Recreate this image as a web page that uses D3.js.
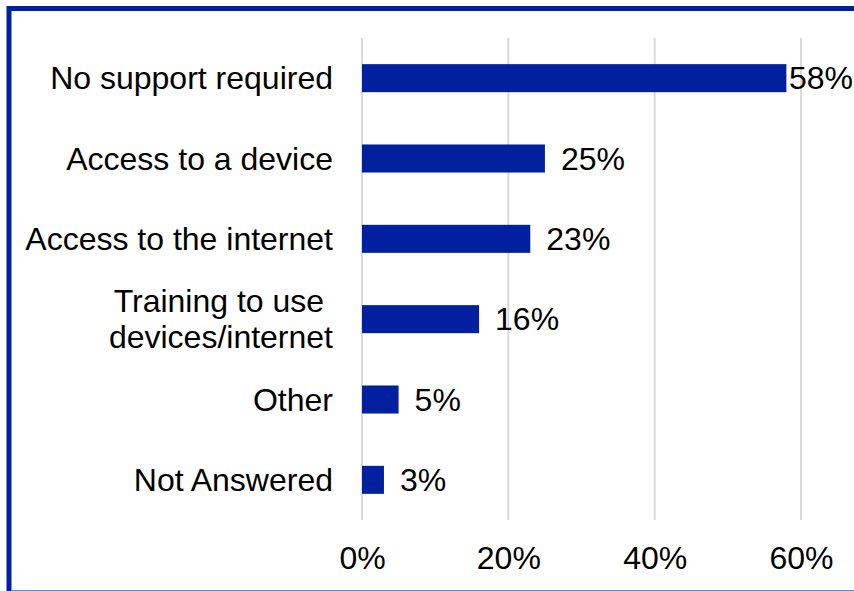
<!DOCTYPE html>
<html>
<head>
<meta charset="utf-8">
<script src="https://cdn.jsdelivr.net/npm/d3@7"></script>
<style>
  html, body { margin: 0; padding: 0; background: #fff; }
  svg { display: block; }
  text { font-family: "Liberation Sans", Arial, sans-serif; fill: #000; }
</style>
</head>
<body>
<svg id="chart" width="854" height="591"></svg>
<script>
// Support needed to get online — share of responses
const categories = [
  ["No support required"],
  ["Access to a device"],
  ["Access to the internet"],
  ["Training to use\u00a0", "devices/internet"],
  ["Other"],
  ["Not Answered"]
];
const values = [0.58, 0.25, 0.23, 0.16, 0.05, 0.03];
const tickValues = [0, 0.2, 0.4, 0.6];

const W = 854, H = 591;
const barColor = "#0020a0";
const fontSize = 32;

const svg = d3.select("#chart");

const keys = categories.map(c => c.join(" "));
const rows = keys.map((k, i) => ({ key: k, lines: categories[i], value: values[i] }));

const x = d3.scaleLinear().domain([0, 0.6]).range([362, 801]);
const y = d3.scaleBand().domain(keys).range([38, 520]).paddingInner(0.651).paddingOuter(0.3255);

// frame
svg.append("line").attr("x1", 7).attr("x2", W).attr("y1", 8.5).attr("y2", 8.5)
  .attr("stroke", barColor).attr("stroke-width", 5);
svg.append("line").attr("x1", 9).attr("x2", 9).attr("y1", 6).attr("y2", H)
  .attr("stroke", barColor).attr("stroke-width", 5);
svg.append("line").attr("x1", 11).attr("x2", W).attr("y1", 590.5).attr("y2", 590.5)
  .attr("stroke", "#6a86d6").attr("stroke-width", 1);

// vertical gridlines
svg.append("g").selectAll("line").data(tickValues).join("line")
  .attr("x1", d => x(d)).attr("x2", d => x(d))
  .attr("y1", 38).attr("y2", 520)
  .attr("stroke", "#d9d9d9").attr("stroke-width", 2);

// x axis tick labels
const xAxis = d3.axisBottom(x).tickValues(tickValues).tickFormat(d3.format(".0%")).tickSize(0).tickPadding(0);
const gx = svg.append("g").attr("transform", "translate(0,546)").call(xAxis);
gx.select(".domain").remove();
gx.selectAll("text").attr("font-size", fontSize).attr("fill", "#000")
  .attr("dy", "0.71em")
  .style("font-family", "'Liberation Sans', Arial, sans-serif");

// bars
svg.append("g").selectAll("rect").data(rows).join("rect")
  .attr("x", x(0))
  .attr("y", d => y(d.key))
  .attr("width", d => x(d.value) - x(0))
  .attr("height", y.bandwidth())
  .attr("fill", barColor);

// category labels
const labels = svg.append("g").selectAll("text").data(rows).join("text")
  .attr("text-anchor", "end")
  .attr("font-size", fontSize)
  .attr("x", 333)
  .attr("y", d => y(d.key) + y.bandwidth() / 2);
labels.each(function(d) {
  const t = d3.select(this);
  const n = d.lines.length;
  const lh = 36;
  d.lines.forEach((line, i) => {
    t.append("tspan")
      .attr("x", 333)
      .attr("y", y(d.key) + y.bandwidth() / 2 + (i - (n - 1) / 2) * lh)
      .attr("dy", "0.35em")
      .style("white-space", "pre")
      .text(line);
  });
});

// value labels
const fmt = d3.format(".0%");
svg.append("g").selectAll("text").data(rows).join("text")
  .attr("font-size", fontSize)
  .attr("y", d => y(d.key) + y.bandwidth() / 2)
  .attr("dy", "0.35em")
  .text(d => fmt(d.value))
  .attr("x", function(d) {
    const w = this.getComputedTextLength();
    return Math.min(x(d.value) + 16, W - 1 - w);
  });
</script>
</body>
</html>
